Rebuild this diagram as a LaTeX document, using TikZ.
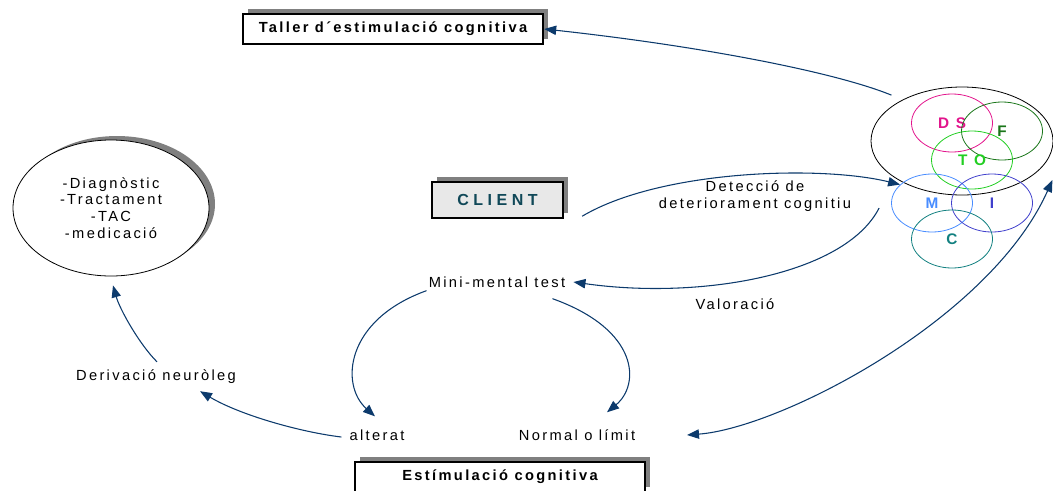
\documentclass[tikz,border=0pt]{standalone}
\usepackage{fontspec}
\setmainfont{Liberation Sans}[LetterSpace=16]
\usetikzlibrary{shapes.geometric,arrows.meta,shadows}
\definecolor{navy}{RGB}{12,58,108}
\definecolor{shadowgray}{RGB}{128,128,128}
\definecolor{clientfill}{RGB}{232,232,232}
\definecolor{clientteal}{RGB}{16,72,88}
\definecolor{dscol}{RGB}{226,20,140}
\definecolor{fcol}{RGB}{26,118,26}
\definecolor{tocol}{RGB}{34,206,34}
\definecolor{mcol}{RGB}{72,140,255}
\definecolor{icol}{RGB}{64,64,204}
\definecolor{ccol}{RGB}{18,128,128}

\begin{document}
\begin{tikzpicture}[x=0.75pt,y=-0.75pt,
  every node/.style={font=\fontsize{11}{12.6}\selectfont, inner sep=0pt},
  arr/.style={navy, line width=0.8pt, -{Triangle[length=9pt,width=7pt]}},
  titlebox/.style={draw, line width=1.8pt, fill=white, font=\fontsize{11}{12.6}\selectfont\bfseries,
    drop shadow={shadow xshift=3.75pt, shadow yshift=3.75pt, fill=shadowgray, opacity=1}},
  venn/.style={ellipse, draw=#1, text=#1, line width=0.6pt, minimum width=60.75pt, minimum height=43.5pt,
    font=\fontsize{11.5}{13}\selectfont\bfseries}]
\useasboundingbox (0,0) rectangle (1053,490);

\node[titlebox, minimum width=225pt, minimum height=22.5pt] (taller) at (393,29) {Taller d´estimulació cognitiva};
\node[titlebox, fill=clientfill, text=clientteal, minimum width=98.25pt, minimum height=27pt,
  font=\fontsize{12}{14}\selectfont\bfseries\addfontfeatures{LetterSpace=28}] (client) at (497.5,200) {CLIENT};
\node[titlebox, minimum width=217.5pt, minimum height=22.5pt] (estim) at (500,477) {Estímulació cognitiva};
\node[ellipse, draw, line width=0.6pt, fill=white, minimum width=147pt, minimum height=102pt, align=center,
  drop shadow={shadow xshift=4.5pt, shadow yshift=3pt, fill=shadowgray, opacity=1}] (diag) at (111,208)
  {-Diagnòstic\\-Tractament\\-TAC\\-medicació};

\node[ellipse, draw, line width=0.6pt, minimum width=136.5pt, minimum height=81pt] (team) at (962,141) {};
\node[venn=dscol] (ds) at (952,123) {D S};
\node[venn=fcol] (f) at (1002,131) {F};
\node[venn=tocol] (to) at (972,160) {T O};
\node[venn=mcol] (m) at (932,203) {M};
\node[venn=icol] (i) at (992,203) {I};
\node[venn=ccol] (c) at (952,239) {C};

\node (mini) at (497,282) {Mini-mental test};
\node[align=center] (detect) at (755,196) {Detecció de\\deteriorament cognitiu};
\node (valor) at (735,304) {Valoració};
\node (alterat) at (377,435) {alterat};
\node (normal) at (577,435) {Normal o límit};
\node (deriv) at (156,377) {Derivació neuròleg};
\coordinate (back) at (687,435);

\draw[arr] ([shift={(-5,-8)}]team.150) .. controls (835,72) and (700,46) .. (taller.east);
\draw[arr] ([shift={(18,-3)}]client.south east) .. controls (660,170) and (820,165) .. (m.150);
\draw[arr] ([shift={(-12,5)}]m.west) .. controls (845,275) and (700,300) .. ([shift={(8,0)}]mini.east);
\draw[arr] ([shift={(-2,3)}]mini.south west) .. controls (345,320) and (340,385) .. ([shift={(-2,-13)}]alterat.north);
\draw[arr] ([shift={(-13,11)}]mini.south east) .. controls (640,330) and (640,385) .. ([shift={(30,-17)}]normal.north);
\draw[arr] ([shift={(-8,2)}]alterat.west) .. controls (300,432) and (240,415) .. ([shift={(44,7)}]deriv.south);
\draw[arr] ([shift={(1,-8)}]deriv.north) .. controls (140,345) and (120,310) .. ([shift={(2,9)}]diag.south);
\draw[arr, {Triangle[length=9pt,width=7pt]}-{Triangle[length=9pt,width=7pt]}] (back)
  .. controls (780,428) and (990,320) .. ([shift={(-1,39)}]team.east);
\end{tikzpicture}
\end{document}
